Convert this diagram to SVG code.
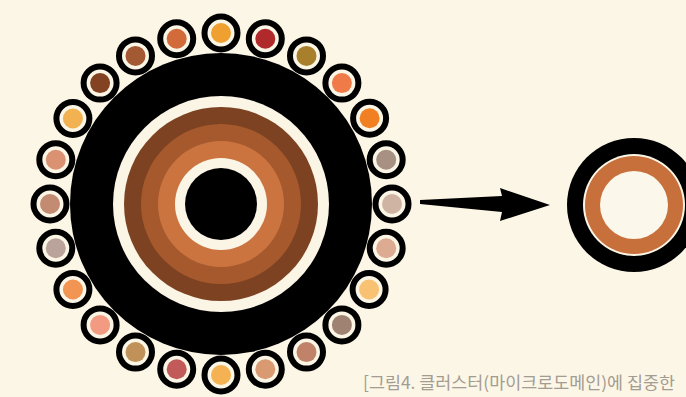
<svg xmlns="http://www.w3.org/2000/svg" width="686" height="397" viewBox="0 0 686 397">
<style>
.bead{fill:#fbf5e6;stroke:#000;stroke-width:6}
.cap{font-family:"Noto Sans CJK KR","Noto Sans",sans-serif;font-size:17px;fill:#a39c93}
</style>
<defs>
<g id="b"><circle class="bead" r="16.5"/></g>
</defs>
<rect width="686" height="397" fill="#fcf6e6"/>
<g id="cluster">
<circle cx="221" cy="204" r="151" fill="#000"/>
<circle cx="221" cy="204" r="108" fill="#fbf5e6"/>
<circle cx="221" cy="204" r="97" fill="#7d4222"/>
<circle cx="221" cy="204" r="80" fill="#a5592c"/>
<circle cx="221" cy="204" r="63" fill="#cc7440"/>
<circle cx="221" cy="204" r="46" fill="#fbf5e6"/>
<circle cx="221" cy="204" r="36" fill="#000"/>
</g>
<g id="beads">
<g transform="translate(221.0,33.0)"><use href="#b"/><circle r="10" fill="#f0a030"/></g>
<g transform="translate(265.3,38.8)"><use href="#b"/><circle r="10" fill="#b02a2c"/></g>
<g transform="translate(306.5,55.9)"><use href="#b"/><circle r="10" fill="#a8802c"/></g>
<g transform="translate(341.9,83.1)"><use href="#b"/><circle r="10" fill="#f07a48"/></g>
<g transform="translate(369.6,118.2)"><use href="#b"/><circle r="10" fill="#f08022"/></g>
<g transform="translate(386.2,159.7)"><use href="#b"/><circle r="10" fill="#a89082"/></g>
<g transform="translate(392.0,204.0)"><use href="#b"/><circle r="10" fill="#cfb3a3"/></g>
<g transform="translate(386.2,248.3)"><use href="#b"/><circle r="10" fill="#dcab92"/></g>
<g transform="translate(369.1,289.5)"><use href="#b"/><circle r="10" fill="#f8c272"/></g>
<g transform="translate(341.9,324.9)"><use href="#b"/><circle r="10" fill="#a08272"/></g>
<g transform="translate(306.5,352.1)"><use href="#b"/><circle r="10" fill="#c0836a"/></g>
<g transform="translate(265.3,369.2)"><use href="#b"/><circle r="10" fill="#d99a72"/></g>
<g transform="translate(221.0,375.0)"><use href="#b"/><circle r="10" fill="#f5b252"/></g>
<g transform="translate(176.7,369.2)"><use href="#b"/><circle r="10" fill="#c25a5a"/></g>
<g transform="translate(135.5,352.1)"><use href="#b"/><circle r="10" fill="#c0925a"/></g>
<g transform="translate(100.1,324.9)"><use href="#b"/><circle r="10" fill="#f29a82"/></g>
<g transform="translate(72.9,289.5)"><use href="#b"/><circle r="10" fill="#f29452"/></g>
<g transform="translate(55.8,248.3)"><use href="#b"/><circle r="10" fill="#b9a39a"/></g>
<g transform="translate(50.0,204.0)"><use href="#b"/><circle r="10" fill="#c28b72"/></g>
<g transform="translate(55.8,159.7)"><use href="#b"/><circle r="10" fill="#da9272"/></g>
<g transform="translate(72.9,118.5)"><use href="#b"/><circle r="10" fill="#f2b252"/></g>
<g transform="translate(100.1,83.1)"><use href="#b"/><circle r="10" fill="#834222"/></g>
<g transform="translate(135.5,55.9)"><use href="#b"/><circle r="10" fill="#a35a32"/></g>
<g transform="translate(176.7,38.8)"><use href="#b"/><circle r="10" fill="#d26a3a"/></g>
</g>
<g id="connectors">
<polygon points="420,200 502,196 500,188 550,205 500,221 502,212 420,204" fill="#000"/>
</g>
<g id="domain">
<circle cx="634" cy="205" r="67" fill="#000"/>
<circle cx="634" cy="205" r="51" fill="#fbf5e6"/>
<circle cx="634" cy="205" r="49" fill="#c8703c"/>
<circle cx="634" cy="205" r="34" fill="#fbf7ea"/>
</g>
<g id="caption">
<text class="cap" x="363" y="389" textLength="312" lengthAdjust="spacingAndGlyphs">[그림4. 클러스터(마이크로도메인)에 집중한</text>
</g>
</svg>
